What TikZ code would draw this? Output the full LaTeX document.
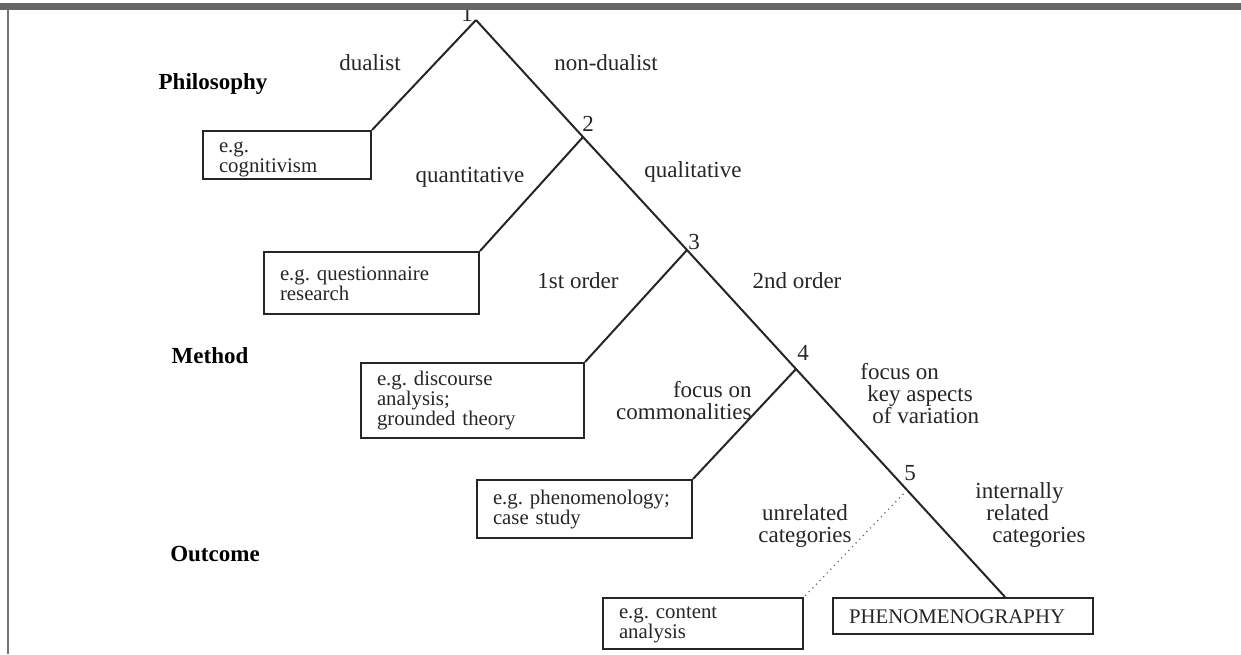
\documentclass[tikz,border=0pt]{standalone}
\usepackage{fontspec}
\setmainfont{Liberation Serif}
\frenchspacing
\hyphenpenalty=10000
\exhyphenpenalty=10000
\begin{document}
\begin{tikzpicture}[x=0.5pt,y=-0.5pt,
  branch/.style={draw=black!85, line width=1pt},
  dotbranch/.style={draw=black!60, line width=0.6pt, dotted},
  box/.style={draw=black!85, line width=1pt, rectangle, anchor=north west,
    align=left, inner xsep=8pt, inner ysep=0pt,
    font=\fontsize{10.4}{10}\selectfont, text=black!85,
    execute at begin node={\rule{0pt}{7.5pt}}},
  lowbox/.style={box, execute at begin node={\rule{0pt}{10pt}}},
  lab/.style={font=\fontsize{11.5}{11}\selectfont, text=black!85, inner sep=0pt},
  level/.style={font=\fontsize{11.5}{12}\selectfont\bfseries, text=black, inner sep=0pt},
  num/.style={font=\fontsize{11.5}{12}\selectfont, text=black!85, inner sep=0pt}]

\useasboundingbox (0,0) rectangle (1241,654);
\fill[white] (0,0) rectangle (1241,654);

% example boxes
\node[lowbox, text width=68pt, minimum height=24pt] (b1) at (202,130) {e.g.\\cognitivism};
\node[box, text width=91.5pt, minimum height=31pt]  (b2) at (263,251) {e.g. questionnaire\\research};
\node[box, text width=95.5pt, minimum height=37.5pt] (b3) at (360,362) {e.g. discourse\\analysis;\\grounded theory};
\node[box, text width=91.5pt, minimum height=29pt]  (b4) at (476,479) {e.g. phenomenology;\\case study};
\node[box, text width=84pt,  minimum height=25.5pt] (b5) at (602,597) {e.g. content\\analysis};
\node[box, text width=114pt, minimum height=18pt]   (b6) at (832,597) {PHENOMENOGRAPHY};

% branching points along the main diagonal
\coordinate (n1) at (476,20);
\coordinate (n2) at (583,137);
\coordinate (n3) at (687,250);
\coordinate (n4) at (796,369);
\coordinate (n5) at (907,490);
\coordinate (n6) at (1005,597);

\draw[branch] (n1) -- (n2) -- (n3) -- (n4) -- (n5) -- (n6);
\draw[branch] (n1) -- (b1.north east);
\draw[branch] (n2) -- (b2.north east);
\draw[branch] (n3) -- (b3.north east);
\draw[branch] (n4) -- (b4.north east);
\draw[dotbranch] (n5) -- (b5.north east);

% point numbers
\node[num] (t1) at (467,14) {1};
\node[num] (t2) at (588,124) {2};
\node[num] (t3) at (694,242) {3};
\node[num] (t4) at (803,353) {4};
\node[num] (t5) at (910,473) {5};

% branch labels
\node[lab] (dual)    at (370,63)  {dualist};
\node[lab] (nondual) at (606,63)  {non-dualist};
\node[lab] (quant)   at (470,177) {quantitative};
\node[lab] (qual)    at (693,172) {qualitative};
\node[lab] (first)   at (578,281) {1st order};
\node[lab] (second)  at (797,281) {2nd order};
\node[lab, align=right, anchor=east] (common) at (752,401) {focus on\\commonalities};
\node[lab, align=left, anchor=west] (keyasp) at (860,394)
  {focus on\\\hspace*{3.5pt}key aspects\\\hspace*{6pt}of variation};
\node[lab, align=center] (unrel) at (805,526) {unrelated\\categories};
\node[lab, align=left, anchor=west] (intrel) at (975,515)
  {internally\\\hspace*{5.5pt}related\\\hspace*{8.5pt}categories};

% level headings
\node[level] (phil)  at (213,84)  {Philosophy};
\node[level] (meth)  at (210,356) {Method};
\node[level] (outc)  at (215,554) {Outcome};

% page frame: top bar and left rule
\fill[black!60] (0,3) rectangle (1241,10);
\draw[black!55, line width=0.8pt] (8,10) -- (8,654);
\end{tikzpicture}
\end{document}
